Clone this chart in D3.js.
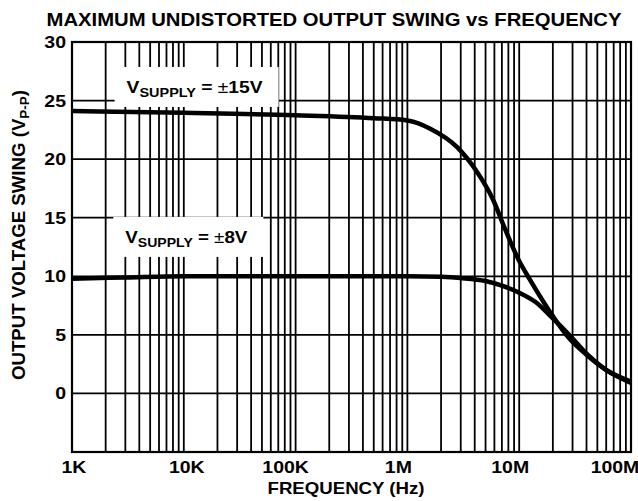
<!DOCTYPE html>
<html lang="en">
<head>
<meta charset="utf-8">
<script src="https://cdn.jsdelivr.net/npm/d3@7"></script>
<style>
  body { margin: 0; background: white; }
  svg { display: block; font-family: "Liberation Sans", Arial, sans-serif; font-weight: bold; }
  .grid line { stroke: #000; stroke-width: 1.8px; }
  .curve { fill: none; stroke: #000; stroke-width: 4.5px; stroke-linejoin: round; }
</style>
</head>
<body>
<svg width="638" height="501"></svg>
<script>
const freq15 = [1e3, 1e4, 1e5, 5e5, 1e6, 1.6e6, 2.8e6, 4.2e6, 5.8e6, 7.5e6, 1e7, 1.25e7, 2e7, 2.8e7, 4e7, 6e7, 1e8];
const swing15 = [24.1, 23.95, 23.75, 23.5, 23.3, 22.6, 21.0, 18.9, 16.6, 14.0, 11.3, 9.7, 6.6, 4.7, 3.3, 2.0, 1.0];

const freq8 = [1e3, 3e3, 1e4, 1e5, 1e6, 2e6, 3e6, 5e6, 7e6, 1e7, 1.4e7, 2e7, 2.8e7, 4e7, 6e7, 1e8];
const swing8 = [9.8, 9.9, 10.0, 10.0, 10.0, 9.95, 9.85, 9.6, 9.2, 8.6, 7.8, 6.4, 5.0, 3.4, 2.0, 0.9];

const xTickValues = [1e3, 1e4, 1e5, 1e6, 1e7, 1e8];
const xTickLabels = ["1K", "10K", "100K", "1M", "10M", "100M"];
const yTickValues = [0, 5, 10, 15, 20, 25, 30];

const margin = {top: 42, right: 7, bottom: 49, left: 72};
const W = 638, H = 501;

const x = d3.scaleLog().domain([1e3, 1e8]).range([margin.left, W - margin.right]);
const y = d3.scaleLinear().domain([-5, 30]).range([H - margin.bottom, margin.top]);

const svg = d3.select("svg");

// stretch text a bit wider like the original artwork
function stretch(sel, k) {
  sel.each(function() {
    const len = this.getComputedTextLength();
    d3.select(this).attr("textLength", len * k).attr("lengthAdjust", "spacingAndGlyphs");
  });
}

// grid
const vlines = [];
for (let d = 3; d < 8; d++) for (let k = 1; k < 10; k++) vlines.push(k * Math.pow(10, d));
vlines.push(1e8);

const grid = svg.append("g").attr("class", "grid");
grid.selectAll(".v").data(vlines).join("line")
  .attr("x1", d => x(d)).attr("x2", d => x(d))
  .attr("y1", y(30)).attr("y2", y(-5));
grid.selectAll(".h").data(d3.range(-5, 31, 5)).join("line")
  .attr("x1", x(1e3)).attr("x2", x(1e8))
  .attr("y1", d => y(d)).attr("y2", d => y(d));

// curve labels with white boxes behind
const labels = [
  {f: 3.08e3, v: 25.65, pm: "±15V", len: 136},
  {f: 3.0e3, v: 12.85, pm: "±8V", len: 122}
];
const labelG = svg.append("g");
labels.forEach(l => {
  const g = labelG.append("g");
  const x0 = x(l.f), y0 = y(l.v);
  const t = g.append("text")
    .attr("x", x0).attr("y", y0)
    .attr("font-size", 16);
  t.append("tspan").text("V");
  t.append("tspan").attr("font-size", 12).attr("dy", 4).text("SUPPLY");
  t.append("tspan").attr("dy", -4).text(" = ");
  t.append("tspan").attr("font-weight", "normal").text(l.pm.slice(0, 1));
  t.append("tspan").text(l.pm.slice(1));
  t.attr("textLength", l.len).attr("lengthAdjust", "spacingAndGlyphs");
  g.insert("rect", "text")
    .attr("x", x0 - 12).attr("y", y0 - 26)
    .attr("width", l.len + 28).attr("height", 40)
    .attr("fill", "white");
});

// curves
const line = d3.line().x(d => x(d[0])).y(d => y(d[1])).curve(d3.curveMonotoneX);
svg.append("path").attr("class", "curve").attr("d", line(d3.zip(freq15, swing15)));
svg.append("path").attr("class", "curve").attr("d", line(d3.zip(freq8, swing8)));

// frame
svg.append("rect")
  .attr("x", x(1e3)).attr("y", y(30))
  .attr("width", x(1e8) - x(1e3)).attr("height", y(-5) - y(30))
  .attr("fill", "none").attr("stroke", "#000").attr("stroke-width", 2.2);

// y tick labels
svg.append("g").selectAll("text").data(yTickValues).join("text")
  .attr("x", 66).attr("y", d => y(d) + 6)
  .attr("text-anchor", "end").attr("font-size", 16.5)
  .text(d => d)
  .call(stretch, 1.18);

// x tick labels
const xShift = [2, 3, -10, -9, -9, -16];
svg.append("g").selectAll("text").data(xTickValues).join("text")
  .attr("x", (d, i) => x(d) + xShift[i]).attr("y", 473)
  .attr("text-anchor", "middle").attr("font-size", 16.5)
  .text((d, i) => xTickLabels[i])
  .call(stretch, 1.18);

// title
svg.append("text")
  .attr("x", 334).attr("y", 26)
  .attr("text-anchor", "middle").attr("font-size", 18)
  .text("MAXIMUM UNDISTORTED OUTPUT SWING vs FREQUENCY")
  .attr("textLength", 575).attr("lengthAdjust", "spacingAndGlyphs");

// x axis title
svg.append("text")
  .attr("x", 346).attr("y", 494)
  .attr("text-anchor", "middle").attr("font-size", 16.5)
  .text("FREQUENCY (Hz)")
  .attr("textLength", 157).attr("lengthAdjust", "spacingAndGlyphs");

// y axis title
const yt = svg.append("text")
  .attr("transform", "translate(25,235) rotate(-90)")
  .attr("text-anchor", "middle").attr("font-size", 18);
yt.append("tspan").text("OUTPUT VOLTAGE SWING (V");
yt.append("tspan").attr("font-size", 13).attr("dy", 4).text("P-P");
yt.append("tspan").attr("dy", -4).text(")");
yt.attr("textLength", 290).attr("lengthAdjust", "spacingAndGlyphs");
</script>
</body>
</html>
